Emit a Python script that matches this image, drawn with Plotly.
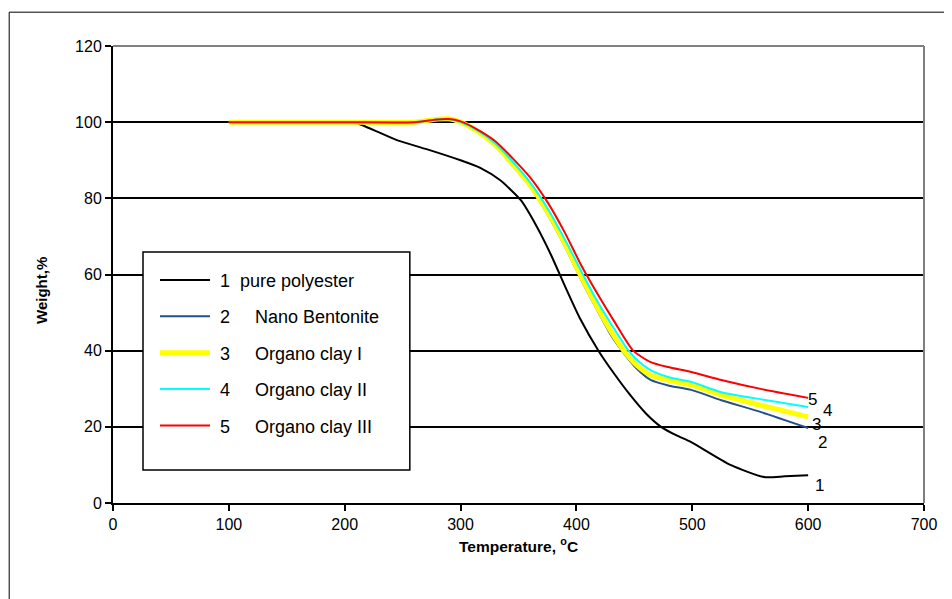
import plotly.graph_objects as go

# ---- data ----
temp_pure = [100, 150, 200, 210, 245, 274, 300, 317, 334, 352, 365, 378, 390, 403, 419, 432, 446, 460, 473, 486, 499, 533, 562, 580, 600]
w_pure    = [100, 100, 100, 99.8, 95.3, 92.6, 90, 88, 84.8, 79.5, 73, 65.2, 57, 48.5, 40, 34.2, 28.5, 23.5, 20, 17.8, 16, 10, 6.8, 7.0, 7.3]

temp_bent = [100, 200, 260, 280, 290, 300, 315, 330, 345, 360, 375, 390, 404, 417, 430, 441, 452, 464, 480, 499, 525, 560, 600]
w_bent    = [100, 100, 100, 100.7, 100.8, 100, 97.3, 93.7, 88.6, 83, 75.8, 67.4, 58.7, 51.2, 44, 39.3, 35.3, 32.3, 30.8, 29.7, 27, 23.8, 19.7]

temp_oc1 = [100, 200, 260, 280, 290, 300, 315, 330, 345, 360, 375, 390, 404, 417, 430, 441, 452, 464, 480, 499, 525, 560, 600]
w_oc1    = [100, 100, 100, 100.8, 100.9, 100, 97.5, 94, 89, 83.5, 76.5, 68.2, 59.5, 52, 45, 40, 36.2, 33.6, 32.2, 31, 28.3, 25.6, 22.6]

temp_oc2 = [100, 200, 260, 280, 290, 300, 315, 330, 345, 360, 375, 390, 404, 417, 431, 445, 455, 464, 480, 499, 525, 560, 600]
w_oc2    = [100, 100, 100, 100.7, 100.8, 100, 97.7, 94.4, 89.6, 84.2, 77.4, 69.2, 61, 53.5, 46.5, 40, 36.8, 34.9, 33, 31.8, 29.1, 27.2, 25.2]

temp_oc3 = [100, 200, 260, 280, 290, 300, 315, 330, 345, 360, 375, 390, 404, 418, 433, 449, 464, 479, 499, 525, 560, 600]
w_oc3    = [100, 100, 100, 100.7, 100.8, 100.2, 98, 95, 90.5, 85.5, 79, 71, 62.5, 55, 47.5, 40, 37, 35.7, 34.4, 32.3, 29.9, 27.6]

NB = "\u00a0"
series_names = [NB + "1" + NB + " pure polyester",
                NB + "2" + NB * 4 + " Nano Bentonite",
                NB + "3" + NB * 4 + " Organo clay I",
                NB + "4" + NB * 4 + " Organo clay II",
                NB + "5" + NB * 4 + " Organo clay III"]
end_labels = ["1", "2", "3", "4", "5"]
end_label_t = [610, 612, 607.5, 617, 604]
end_label_w = [4.7, 16.0, 20.5, 24.4, 27.3]

x_ticks = [0, 100, 200, 300, 400, 500, 600, 700]
y_ticks = [0, 20, 40, 60, 80, 100, 120]

colors = ["#000000", "#24508C", "#FFFF00", "#00FFFF", "#FF0000"]
widths = [2, 2, 5, 2, 2]

FONT = "Liberation Sans, Arial, sans-serif"

fig = go.Figure()
data = [(temp_pure, w_pure), (temp_bent, w_bent), (temp_oc1, w_oc1), (temp_oc2, w_oc2), (temp_oc3, w_oc3)]
for i, (t, w) in enumerate(data):
    fig.add_trace(go.Scatter(
        x=t, y=w, mode="lines", name=series_names[i], legendgroup=str(i),
        line=dict(color=colors[i], width=widths[i], shape="spline", smoothing=0.6),
    ))

for lab, t, w in zip(end_labels, end_label_t, end_label_w):
    fig.add_annotation(x=t, y=w, text=lab, showarrow=False, xref="x", yref="y",
                       font=dict(family=FONT, size=17, color="black"))

# axis titles
fig.add_annotation(x=-0.0875, y=0.464, xref="paper", yref="paper", text="<b>Weight,%</b>",
                   xanchor="center", yanchor="middle",
                   textangle=-90, showarrow=False, font=dict(family=FONT, size=15, color="black"))
fig.add_annotation(x=0.5006, y=-0.092, xref="paper", yref="paper",
                   xanchor="center", yanchor="middle",
                   text="<b>Temperature, <sup>o</sup>C</b>", showarrow=False,
                   font=dict(family=FONT, size=15.5, color="black"))

# grey top / right border of plot area
fig.add_shape(type="line", xref="paper", yref="paper", x0=0, x1=1, y0=1, y1=1,
              line=dict(color="#808080", width=2), layer="above")
fig.add_shape(type="line", xref="paper", yref="paper", x0=1, x1=1, y0=0, y1=1,
              line=dict(color="#808080", width=2), layer="above")
# legend box
fig.add_shape(type="rect", xref="paper", yref="paper", x0=0.037, x1=0.366, y0=0.0722, y1=0.549,
              line=dict(color="black", width=1.5), fillcolor="white", layer="above")
# outer chart border
fig.add_shape(type="rect", xref="paper", yref="paper", x0=-0.128, x1=1.2, y0=-0.4, y1=1.074,
              line=dict(color="#000000", width=1), layer="below")

fig.update_xaxes(range=[0, 700], tickvals=x_ticks, showgrid=False, zeroline=False,
                 showline=True, linecolor="black", linewidth=2,
                 ticks="outside", ticklen=6, tickwidth=2, tickcolor="black",
                 tickfont=dict(family=FONT, size=16, color="black"))
fig.update_yaxes(range=[0, 120], tickvals=y_ticks, showgrid=True, gridcolor="black", gridwidth=1.5,
                 zeroline=False, showline=True, linecolor="black", linewidth=2,
                 ticks="outside", ticklen=6, tickwidth=2, tickcolor="black",
                 tickfont=dict(family=FONT, size=16, color="black"))

fig.update_layout(
    width=944, height=591,
    margin=dict(l=105, r=28, t=38, b=96),
    paper_bgcolor="white", plot_bgcolor="white",
    showlegend=True,
    legend=dict(x=0.0518, y=0.528, xanchor="left", yanchor="top",
                bgcolor="rgba(0,0,0,0)", borderwidth=0,
                font=dict(family=FONT, size=18, color="black"),
                tracegroupgap=10, itemwidth=50),
    font=dict(family=FONT),
)

fig.write_html("out.html")
